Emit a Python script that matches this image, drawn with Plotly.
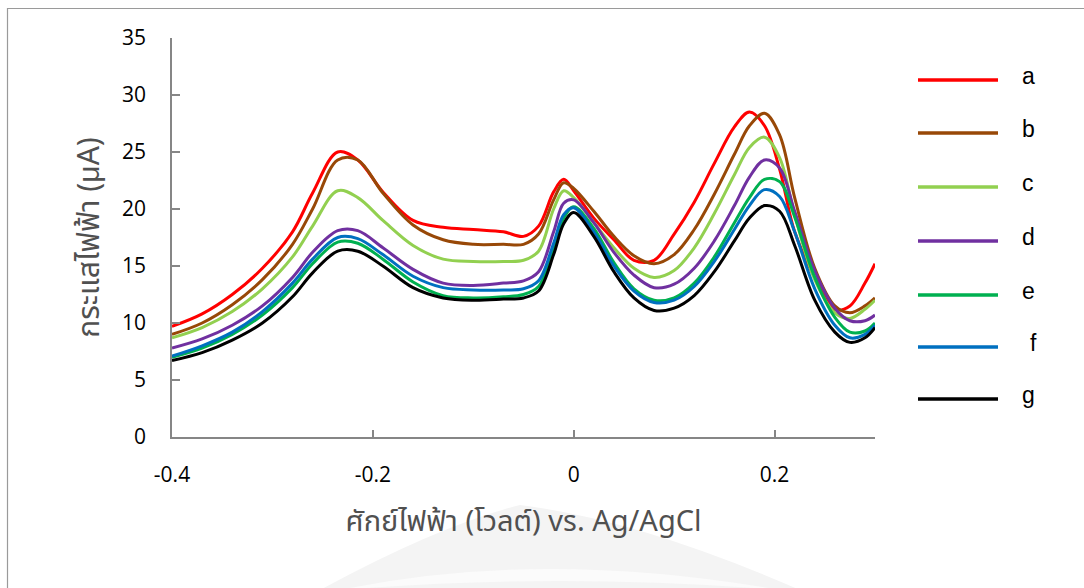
import plotly.graph_objects as go

potential = [-0.40, -0.37, -0.34, -0.31, -0.28, -0.26, -0.235, -0.215, -0.19, -0.16,
             -0.13, -0.10, -0.07, -0.05, -0.035, -0.02, -0.01, 0.0, 0.02, 0.04,
             0.06, 0.08, 0.10, 0.12, 0.14, 0.16, 0.175, 0.19, 0.205, 0.22,
             0.24, 0.26, 0.275, 0.29, 0.30]

series_names = ["a", "b", "c", "d", "e", "f", "g"]
series_colors = ["#FF0000", "#984807", "#92D050", "#7030A0", "#00B050", "#0070C0", "#000000"]

a_vals = [9.7, 10.8, 12.5, 14.8, 18.0, 21.4, 25.0, 24.3, 21.5, 19.0,
          18.4, 18.2, 18.0, 17.6, 18.5, 21.5, 22.6, 21.6, 19.2, 17.3,
          15.5, 15.5, 17.8, 20.6, 24.0, 27.2, 28.5, 27.3, 23.5, 18.0,
          14.0, 11.2, 11.5, 13.5, 15.2]
b_vals = [9.0, 10.0, 11.6, 13.8, 16.9, 20.0, 24.3, 24.3, 21.4, 18.6,
          17.3, 16.9, 16.9, 16.9, 17.8, 20.8, 22.3, 21.8, 19.8, 17.6,
          15.9, 15.2, 16.0, 18.2, 21.3, 24.8, 27.3, 28.4, 26.5, 21.0,
          14.8, 11.5, 10.9, 11.5, 12.2]
c_vals = [8.7, 9.6, 11.0, 13.0, 15.8, 18.5, 21.6, 21.0, 19.0, 16.8,
          15.6, 15.4, 15.4, 15.5, 16.3, 20.0, 21.6, 21.0, 18.8, 16.6,
          14.8, 14.0, 14.6, 16.6, 19.6, 23.0, 25.4, 26.3, 24.5, 19.5,
          13.8, 10.9, 10.4, 11.2, 12.0]
d_vals = [7.8, 8.6, 9.8, 11.5, 14.0, 16.2, 18.1, 18.1, 16.6, 14.7,
          13.5, 13.3, 13.5, 13.7, 14.5, 18.0, 20.5, 20.8, 18.8, 16.2,
          14.2, 13.1, 13.4, 14.8, 17.2, 20.3, 22.8, 24.3, 23.6, 19.8,
          14.6, 11.3, 10.2, 10.2, 10.7]
e_vals = [7.0, 7.8, 9.0, 10.7, 13.1, 15.2, 17.1, 17.0, 15.6, 13.6,
          12.4, 12.2, 12.3, 12.5, 13.2, 16.5, 19.2, 20.2, 18.3, 15.3,
          13.0, 12.0, 12.2, 13.5, 15.8, 18.8, 21.0, 22.6, 22.4, 19.3,
          14.0, 10.5, 9.2, 9.3, 10.0]
f_vals = [7.1, 8.0, 9.2, 11.0, 13.5, 15.6, 17.5, 17.4, 16.0, 14.1,
          13.1, 12.9, 12.9, 13.0, 13.7, 17.0, 19.5, 20.1, 18.0, 15.0,
          12.8, 11.8, 12.0, 13.2, 15.4, 18.2, 20.3, 21.7, 21.1, 18.0,
          13.0, 9.8, 8.7, 9.0, 9.8]
g_vals = [6.7, 7.4, 8.5, 10.0, 12.3, 14.4, 16.3, 16.3, 15.0, 13.1,
          12.2, 12.0, 12.1, 12.2, 12.8, 16.0, 18.7, 19.7, 17.6, 14.5,
          12.2, 11.1, 11.3, 12.4, 14.5, 17.2, 19.2, 20.3, 19.8, 16.8,
          12.0, 9.2, 8.3, 8.7, 9.6]

all_vals = [a_vals, b_vals, c_vals, d_vals, e_vals, f_vals, g_vals]

x_ticks = [-0.4, -0.2, 0, 0.2]
x_tick_text = ["-0.4", "-0.2", "0", "0.2"]
y_ticks = [0, 5, 10, 15, 20, 25, 30, 35]

x_title = "ศักย์ไฟฟ้า (โวลต์) vs. Ag/AgCl"
y_title = "กระแสไฟฟ้า (μA)"

thai_font = "Noto Sans Thai, Tahoma, Leelawadee UI, sans-serif"

fig = go.Figure()
for name, color, vals in zip(series_names, series_colors, all_vals):
    fig.add_trace(go.Scatter(
        x=potential, y=vals, name=name, mode="lines",
        line=dict(color=color, width=3, shape="spline", smoothing=1.0),
        showlegend=False,
    ))

W, H = 1084, 588
L, R, T, B = 172, 209, 38, 151
pw, ph = W - L - R, H - T - B

def px_x(p):
    return (p - L) / pw

def px_y(p):
    return (H - B - p) / ph

def qpath(pts, close=True):
    s = "M {:.4f},{:.4f}".format(px_x(pts[0][0]), px_y(pts[0][1]))
    for i in range(1, len(pts) - 1, 2):
        s += " Q {:.4f},{:.4f} {:.4f},{:.4f}".format(
            px_x(pts[i][0]), px_y(pts[i][1]), px_x(pts[i + 1][0]), px_y(pts[i + 1][1]))
    return s + (" Z" if close else "")

shapes = []
annotations = []

# faint page watermark behind the chart
shapes.append(dict(type="path", xref="paper", yref="paper",
                   path=qpath([(320, 590), (440, 525), (520, 505), (640, 520), (800, 590)]),
                   fillcolor="#f4f4f4", line=dict(width=0), layer="below"))
shapes.append(dict(type="path", xref="paper", yref="paper",
                   path=qpath([(340, 590), (540, 548), (780, 590), (560, 572), (340, 590)]),
                   fillcolor="#fbfbfb", line=dict(width=0), layer="below"))

# legend drawn as layout decorations (long line samples like the reference)
legend_rows = [80, 133, 187, 241, 295, 347, 399]
for name, color, yrow in zip(series_names, series_colors, legend_rows):
    shapes.append(dict(type="line", xref="paper", yref="paper",
                       x0=px_x(918), x1=px_x(998), y0=px_y(yrow), y1=px_y(yrow),
                       line=dict(color=color, width=3.5)))
    annotations.append(dict(text=name, xref="paper", yref="paper",
                            x=px_x(1028 + (5 if name == "f" else 0)), y=px_y(yrow - 4),
                            showarrow=False, xanchor="center", yanchor="middle",
                            font=dict(family="Liberation Sans, Arial", size=23, color="#000000")))

# outer chart border
shapes.append(dict(type="rect", xref="paper", yref="paper",
                   x0=px_x(7.5), x1=px_x(1090), y0=px_y(8.5), y1=px_y(600),
                   line=dict(color="#9a9a9a", width=1.2), fillcolor="rgba(0,0,0,0)"))

fig.update_layout(
    width=W, height=H,
    margin=dict(l=L, r=R, t=T, b=B),
    paper_bgcolor="white", plot_bgcolor="rgba(0,0,0,0)",
    shapes=shapes, annotations=annotations,
    showlegend=False,
)
fig.update_xaxes(
    range=[-0.4, 0.3], tickvals=x_ticks, ticktext=x_tick_text,
    showgrid=False, zeroline=False,
    showline=True, linecolor="#868686", linewidth=1.5,
    ticks="inside", ticklen=7, tickcolor="#868686", tickwidth=1.5,
    tickfont=dict(family="Open Sans, Noto Sans", size=21, color="#000000"),
    ticklabelstandoff=18,
    title=dict(text=x_title, font=dict(family=thai_font, size=29, color="#505050"), standoff=24),
)
fig.update_yaxes(
    range=[0, 35], tickvals=y_ticks,
    showgrid=False, zeroline=False,
    showline=True, linecolor="#868686", linewidth=1.5,
    ticks="inside", ticklen=8, tickcolor="#868686", tickwidth=1.5,
    tickfont=dict(family="Open Sans, Noto Sans", size=21, color="#000000"),
    ticklabelstandoff=20,
    title=dict(text=y_title, font=dict(family=thai_font, size=30, color="#505050"), standoff=14),
)

fig.write_html("out.html")
